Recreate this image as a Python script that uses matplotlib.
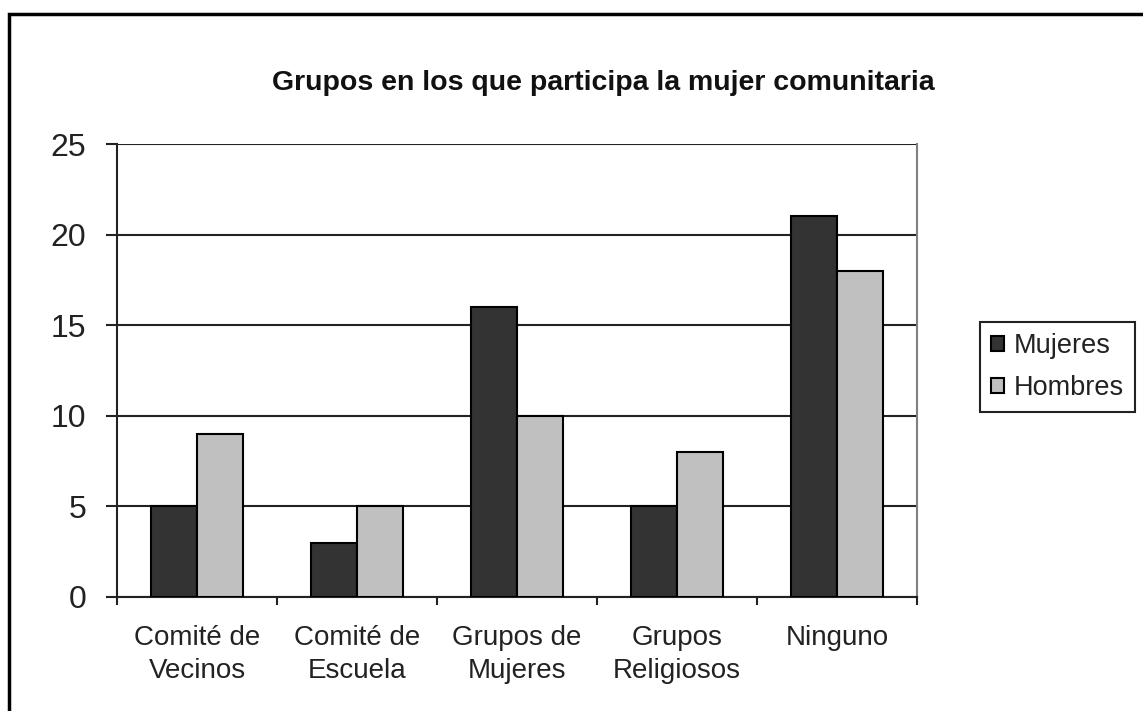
import numpy as np
import matplotlib
matplotlib.use('Agg')
import matplotlib.pyplot as plt
from matplotlib.patches import Rectangle

plt.rcParams['font.family'] = ['Liberation Sans', 'DejaVu Sans']

# data
categorias = ['Comité de\nVecinos', 'Comité de\nEscuela', 'Grupos de\nMujeres',
              'Grupos\nReligiosos', 'Ninguno']
mujeres = [5, 3, 16, 5, 21]
hombres = [9, 5, 10, 8, 18]
series = ['Mujeres', 'Hombres']
titulo = 'Grupos en los que participa la mujer comunitaria'

fig = plt.figure(figsize=(11.43, 7.11), dpi=100)
ax = fig.add_axes([117/1143, 1-597/711, 800/1143, 453/711])

x = np.arange(len(categorias))
w = 1/3.5
ax.bar(x - w/2, mujeres, w, color='#333333', edgecolor='black', linewidth=1.5, zorder=3, label=series[0])
ax.bar(x + w/2, hombres, w, color='#c0c0c0', edgecolor='black', linewidth=1.5, zorder=3, label=series[1])

ax.set_xlim(-0.5, len(categorias) - 0.5)
ax.set_ylim(0, 25)
ax.set_yticks([0, 5, 10, 15, 20, 25])
ax.yaxis.grid(True, color='#222222', linewidth=1.5, zorder=1)

# ticks at category boundaries, labels at centres
ax.set_xticks(np.arange(-0.5, len(categorias)), labels=[''] * (len(categorias) + 1))
ax.set_xticks(x, labels=categorias, minor=True)
ax.tick_params(axis='x', which='major', direction='out', length=6, width=1.5, color='#222222')
ax.tick_params(axis='x', which='minor', length=0, pad=20, labelsize=20, labelcolor='#222222')
for t in ax.get_xticklabels(minor=True):
    t.set_linespacing(1.35)
ax.tick_params(axis='y', direction='out', length=8, width=1.5, color='#222222', pad=14,
               labelsize=23, labelcolor='#222222')

for s in ['left', 'bottom']:
    ax.spines[s].set_color('#222222')
    ax.spines[s].set_linewidth(1.5)
ax.spines['top'].set_visible(False)
ax.spines['right'].set_color('#808080')
ax.spines['right'].set_linewidth(1.5)

fig.text(603/1143, 1-83/711, titulo, ha='center', va='center', fontsize=20.5,
         fontweight='bold', color='#111111')

leg = fig.legend(loc='upper left', bbox_to_anchor=(980/1143, 1-322/711), fontsize=19.5,
                 frameon=True, fancybox=False, edgecolor='#222222', framealpha=1,
                 handlelength=0.5, handleheight=0.5, handletextpad=0.35,
                 borderpad=0.4, labelspacing=0.6, borderaxespad=0)
leg.get_frame().set_linewidth(1.5)
for t in leg.get_texts():
    t.set_color('#222222')

# chart border (right/bottom fall outside the image)
fig.patches.append(Rectangle((9/1143, -0.1), 1.2, 1.1 - 14/711, transform=fig.transFigure,
                             fill=False, edgecolor='black', linewidth=2.5))

fig.savefig('out.png', dpi=100)
